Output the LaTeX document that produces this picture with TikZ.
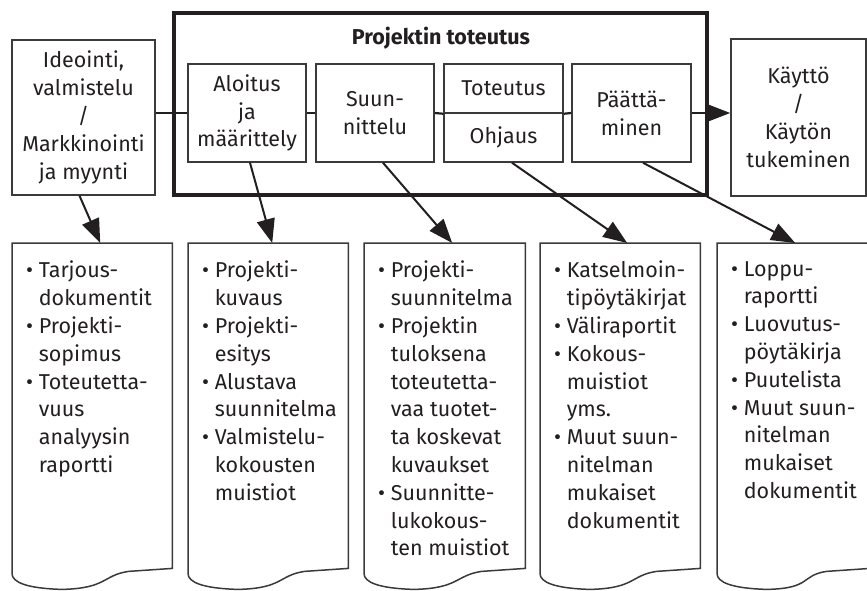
\documentclass[tikz,border=0pt]{standalone}
\usepackage{fontspec}
\setmainfont{Fira Sans}
\usepackage{xcolor}
\usepackage{tikz}
\usetikzlibrary{arrows.meta,calc}

\definecolor{linegray}{HTML}{3A3A3A}
\definecolor{inkblack}{HTML}{231F20}
\newcommand{\bul}{\textbullet\ }
\newcommand{\docind}{\hphantom{\textbullet\ }}

\begin{document}
\begin{tikzpicture}[x=1pt,y=1pt,
    every node/.style={text=inkblack, font=\fontsize{21.5}{27.8}\selectfont},
    phase/.style={draw=linegray, line width=1.5pt, minimum width=118pt, minimum height=98pt, align=center, inner sep=0pt},
    stage/.style={draw=linegray, line width=1.5pt, align=center, inner sep=0pt},
    docframe/.style={minimum width=160pt, minimum height=325pt, anchor=north west, inner sep=0pt},
    doctext/.style={anchor=north west, align=left, inner sep=0pt},
    docline/.style={draw=linegray, line width=1.5pt},
    flow/.style={draw=inkblack, line width=2.2pt},
    outarrow/.style={draw=inkblack, line width=2pt, -{Triangle[length=24pt,width=18pt]}}]
    \useasboundingbox (0,0) rectangle (867,590);

    % Project frame
    \node[draw=inkblack, line width=3.5pt, minimum width=533pt, minimum height=182pt, inner sep=0pt] (proj) at (440.5,486) {};
    \node[font=\bfseries\fontsize{21.5}{26}\selectfont] (projtitle) at (441,552) {Projektin toteutus};

    % Before and after the project
    \node[stage, minimum width=143pt, minimum height=155pt] (ideo) at (83.5,472.5) {Ideointi,\\valmistelu\\/\\Markkinointi\\ja myynti};
    \node[stage, minimum width=135pt, minimum height=157pt] (kay) at (798.5,472.5) {Käyttö\\/\\Käytön\\tukeminen};

    % Phases
    \node[phase] (alo) at (247,477) {Aloitus\\ja\\määrittely};
    \node[phase] (suun) at (375,477) {Suun-\\nittelu};
    \node[phase, minimum width=119pt, minimum height=49pt] (tot) at (503.5,501.5) {Toteutus};
    \node[phase, minimum width=119pt, minimum height=49pt] (ohj) at (503.5,452.5) {Ohjaus};
    \node[phase, minimum width=119pt] (paat) at (631.5,477) {Päättä-\\minen};

    % Flow line
    \draw[flow] (alo.west -| ideo.east) -- (alo.west);
    \draw[flow] (alo.east) -- (suun.west);
    \draw[flow] (suun.east) -- (tot.south west);
    \draw[flow] (tot.south east) -- (paat.west);
    \draw[flow, -{Triangle[length=24pt,width=18pt]}] (paat.east) -- (paat.east -| kay.west);

    % Documents
    \foreach \i/\x/\w in {1/12/160, 2/188/160, 3/364/161, 4/540/160, 5/717/153}
        \node[docframe, minimum width=\w pt] (d\i) at (\x,347) {};
    \foreach \i in {1,...,5}
        \draw[docline] (d\i.north west) -- (d\i.north east) -- (d\i.south east)
            -- ($(d\i.south east)+(-44,-3)$) .. controls +(-26,-4) and +(45,1) .. ($(d\i.south west)+(50,-21)$)
            .. controls +(-35,1) and +(0,-9) .. ($(d\i.south west)+(0,-5)$) -- cycle;

    \node[doctext] (t1) at ($(d1.north west)+(14,-18)$) {\bul Tarjous-\\\docind dokumentit\\\bul Projekti-\\\docind sopimus\\\bul Toteutetta-\\\docind vuus\\\docind analyysin\\\docind raportti};
    \node[doctext] (t2) at ($(d2.north west)+(14,-18)$) {\bul Projekti-\\\docind kuvaus\\\bul Projekti-\\\docind esitys\\\bul Alustava\\\docind suunnitelma\\\bul Valmistelu-\\\docind kokousten\\\docind muistiot};
    \node[doctext] (t3) at ($(d3.north west)+(14,-18)$) {\bul Projekti-\\\docind suunnitelma\\\bul Projektin\\\docind tuloksena\\\docind toteutetta-\\\docind vaa tuotet-\\\docind ta koskevat\\\docind kuvaukset\\\bul Suunnitte-\\\docind lukokous-\\\docind ten muistiot};
    \node[doctext] (t4) at ($(d4.north west)+(14,-18)$) {\bul Katselmoin-\\\docind tipöytäkirjat\\\bul Väliraportit\\\bul Kokous-\\\docind muistiot\\\docind yms.\\\bul Muut suun-\\\docind nitelman\\\docind mukaiset\\\docind dokumentit};
    \node[doctext] (t5) at ($(d5.north west)+(14,-18)$) {\bul Loppu-\\\docind raportti\\\bul Luovutus-\\\docind pöytäkirja\\\bul Puutelista\\\bul Muut suun-\\\docind nitelman\\\docind mukaiset\\\docind dokumentit};

    % Outputs of each stage
    \draw[outarrow] ([xshift=-4pt]ideo.south) -- ([xshift=8pt]d1.north);
    \draw[outarrow] ([xshift=3pt]alo.south) -- ([xshift=4pt]d2.north);
    \draw[outarrow] ([xshift=8pt]suun.south) -- ([xshift=7.5pt]d3.north);
    \draw[outarrow] ([xshift=8.5pt]ohj.south) -- ([xshift=7pt]d4.north);
    \draw[outarrow] ([xshift=11.5pt]paat.south) -- ([xshift=1.5pt]d5.north);
\end{tikzpicture}
\end{document}
